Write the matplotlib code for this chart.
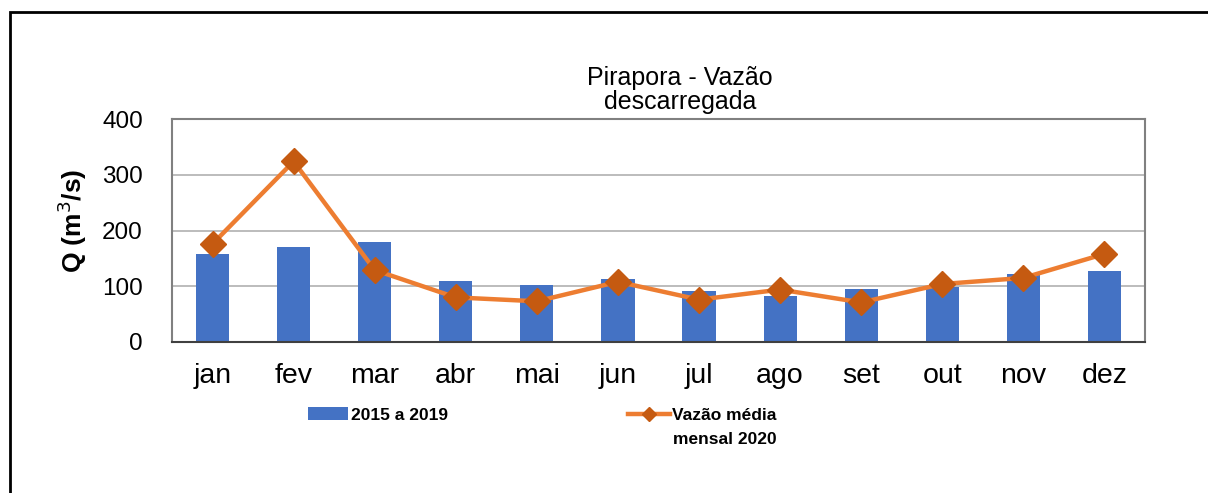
import numpy as np
import matplotlib.pyplot as plt
from matplotlib.patches import Rectangle

# data
meses = ['jan', 'fev', 'mar', 'abr', 'mai', 'jun', 'jul', 'ago', 'set', 'out', 'nov', 'dez']
media_2015_2019 = [157, 171, 180, 110, 103, 113, 92, 83, 95, 98, 122, 127]
vazao_2020 = [176, 324, 129, 80, 73, 108, 76, 94, 71, 104, 115, 158]

plt.rcParams['font.family'] = ['Liberation Sans', 'DejaVu Sans']

W, H = 1208, 493
fig = plt.figure(figsize=(W / 100, H / 100), dpi=100)
ax = fig.add_axes([172 / W, 1 - 342 / H, (1145 - 172) / W, (342 - 119) / H])

x = np.arange(len(meses))
barras = ax.bar(x, media_2015_2019, width=0.41, color='#4472C4', zorder=2)
linha, = ax.plot(x, vazao_2020, color='#ED7D31', lw=3.2, marker='D', markersize=13,
                 markerfacecolor='#C55A11', markeredgecolor='#C55A11', zorder=3)

ax.set_xlim(-0.5, 11.5)
ax.set_ylim(0, 400)
ax.set_yticks([0, 100, 200, 300, 400])
ax.set_xticks(x)
ax.set_xticklabels(meses)
ax.tick_params(axis='both', length=0)
ax.tick_params(axis='x', labelsize=20.5, pad=15)
ax.tick_params(axis='y', labelsize=17.5, pad=21)
ax.yaxis.grid(True, color='#b0b0b0', lw=1.2, zorder=0)
for s in ['left', 'top', 'right']:
    ax.spines[s].set_color('#808080')
    ax.spines[s].set_linewidth(1.5)
ax.spines['bottom'].set_color('#404040')
ax.spines['bottom'].set_linewidth(1.5)

ax.set_ylabel('Q (m$^3$/s)', fontsize=19, fontweight='bold')
ax.yaxis.set_label_coords(-0.103, 0.543)
ax.yaxis.label.set_va('center')

fig.text(680 / W, 1 - 90 / H, 'Pirapora - Vazão\ndescarregada', ha='center', va='center',
         fontsize=18, linespacing=1.05)

# legend entries below the chart
leg_font = {'weight': 'bold', 'size': 12.5}
fig.legend([barras], ['2015 a 2019'], loc='center left', bbox_to_anchor=(308 / W, 1 - 415 / H),
           frameon=False, prop=leg_font, handlelength=2.3,
           handletextpad=0.2, borderpad=0, borderaxespad=0)
fig.legend([linha], ['Vazão média'], loc='center left', bbox_to_anchor=(628 / W, 1 - 415 / H),
           frameon=False, prop=leg_font, handlelength=2.4,
           handletextpad=0.15, borderpad=0, borderaxespad=0, markerscale=0.55)
fig.text(673 / W, 1 - 440 / H, 'mensal 2020', ha='left', va='center', **leg_font)

# outer border of the chart frame
fig.patches.append(Rectangle((10 / W, -0.1), 1.2, 1 - 12 / H + 0.1, transform=fig.transFigure,
                             fill=False, edgecolor='black', lw=2))

fig.savefig('out.png', dpi=100)
